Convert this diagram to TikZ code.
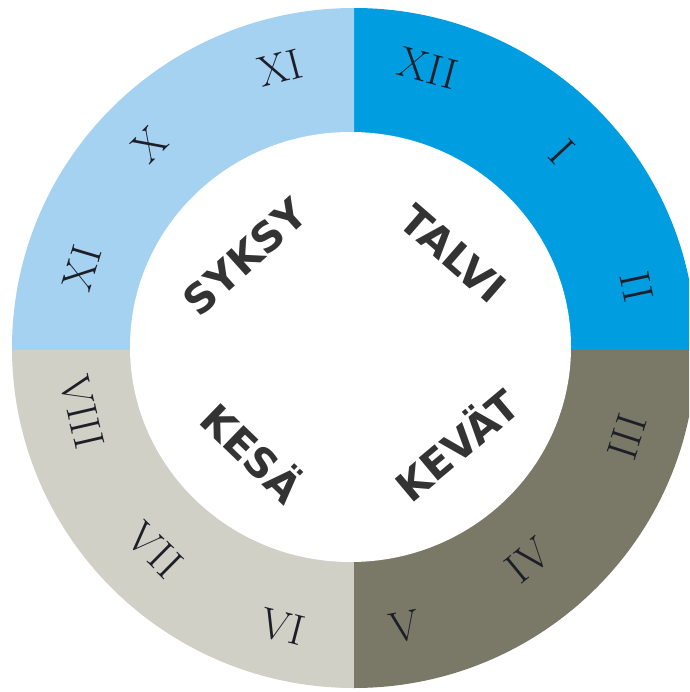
\documentclass[tikz,border=0pt]{standalone}
\usepackage{fontspec}
\newfontfamily\seasonfont{DejaVu Sans}
\definecolor{qwinter}{HTML}{009EE0}
\definecolor{qautumn}{HTML}{A6D2F2}
\definecolor{qsummer}{HTML}{D0D0C6}
\definecolor{qspring}{HTML}{7A7968}
\definecolor{wordcol}{HTML}{333333}
\definecolor{numcol}{HTML}{1E1E28}
\tikzset{
  numeral/.style={text=numcol, inner sep=0pt, font=\fontsize{43}{43}\selectfont},
  season/.style={text=wordcol, inner sep=0pt, font=\seasonfont\bfseries\fontsize{41}{41}\selectfont}
}
\begin{document}
\begin{tikzpicture}[x=1pt,y=-1pt]
\useasboundingbox (0,0) rectangle (689,692);
\clip (0,0) rectangle (689,692);
\begin{scope}
  \clip (354,350) rectangle (800,-100);
  \fill[qwinter] (354,348) ellipse [x radius=342, y radius=340];
\end{scope}
\begin{scope}
  \clip (354,350) rectangle (-100,-100);
  \fill[qautumn] (354,348) ellipse [x radius=342, y radius=340];
\end{scope}
\begin{scope}
  \clip (354,350) rectangle (-100,800);
  \fill[qsummer] (354,348) ellipse [x radius=342, y radius=340];
\end{scope}
\begin{scope}
  \clip (354,350) rectangle (800,800);
  \fill[qspring] (354,348) ellipse [x radius=342, y radius=340];
\end{scope}
\fill[white] (350.5,347) ellipse [x radius=220.5, y radius=215];

\node[numeral, rotate=-15] (n12) at (428,68) {XII};
\node[numeral, rotate=-47] (n1) at (562,152) {I};
\node[numeral, rotate=-78] (n2) at (637,287) {II};
\node[numeral, rotate=72] (n3) at (627,437) {III};
\node[numeral, rotate=39.5] (n4) at (528,560) {IV};
\node[numeral, rotate=10.4] (n5) at (405,627) {V};
\node[numeral, rotate=-14.5] (n6) at (282,627) {VI};
\node[numeral, rotate=-44.7] (n7) at (155,550) {VII};
\node[numeral, rotate=-77] (n8) at (82,412) {VIII};
\node[numeral, rotate=73.4] (n9) at (82,268) {XI};
\node[numeral, rotate=45] (n10) at (150,145) {X};
\node[numeral, rotate=14.8] (n11) at (280,68) {XI};

\node[season, rotate=42] (syksy) at (245,257) {SYKSY};
\node[season, rotate=-41] (talvi) at (453,254) {TALVI};
\node[season, rotate=-44] (kesa) at (254,451) {KESÄ};
\node[season, rotate=40] (kevat) at (455,443) {KEVÄT};
\end{tikzpicture}
\end{document}
